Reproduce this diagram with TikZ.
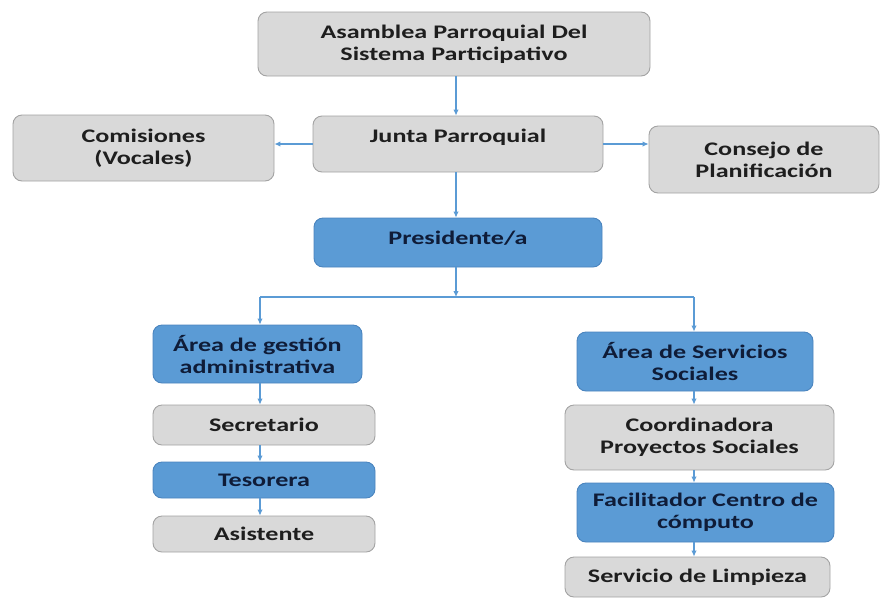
\documentclass[tikz,border=0pt]{standalone}
\usepackage{fontspec}
\newfontfamily\boxfont{Carlito}[FakeStretch=1.36]
\usetikzlibrary{arrows.meta}
\definecolor{gfill}{HTML}{D9D9D9}
\definecolor{gline}{HTML}{A3A3A3}
\definecolor{bfill}{HTML}{5B9BD5}
\definecolor{bline}{HTML}{4A84BE}
\definecolor{connc}{HTML}{5B9BD5}
\definecolor{gtext}{HTML}{1E1E1E}
\definecolor{btext}{HTML}{0F1C38}
\begin{document}
\begin{tikzpicture}[x=1pt,y=-1pt,
  box/.style={rounded corners=9pt, inner sep=0pt, align=center, line width=0.9pt,
    font=\boxfont\bfseries\fontsize{19.2}{22}\selectfont},
  gbox/.style={box, draw=gline, fill=gfill, text=gtext},
  bbox/.style={box, draw=bline, fill=bfill, text=btext},
  txt/.style={inner sep=0pt, align=center, font=\boxfont\bfseries\fontsize{19.2}{22}\selectfont},
  conn/.style={draw=connc, line width=1.1pt, -{Latex[length=6pt,width=5.5pt]}},
  cline/.style={draw=connc, line width=1.1pt}]
\useasboundingbox (0,0) rectangle (880,598);
\fill[white] (0,0) rectangle (880,598);

% top level
\node[gbox, minimum width=392pt, minimum height=64pt] (asam) at (454,44) {Asamblea Parroquial Del\\Sistema Participativo};
\node[gbox, minimum width=290pt, minimum height=56pt] (junta) at (458,144) {};
\node[txt, text=gtext] (juntat) at (458,137) {Junta Parroquial};
\node[gbox, minimum width=261pt, minimum height=66pt] (comis) at (143.5,148) {Comisiones\\(Vocales)};
\node[gbox, minimum width=230pt, minimum height=67pt] (consejo) at (764,159.5) {Consejo de\\Planificación};
\node[bbox, minimum width=288pt, minimum height=49pt] (pres) at (458,242.5) {};
\node[txt, text=btext] (prest) at (458,238) {Presidente/a};

% left column
\node[bbox, minimum width=209pt, minimum height=58pt] (areaG) at (257.5,354) {Área de gestión\\administrativa};
\node[gbox, minimum width=222pt, minimum height=40pt] (secr) at (264,425) {Secretario};
\node[bbox, minimum width=222pt, minimum height=36pt] (teso) at (264,480) {Tesorera};
\node[gbox, minimum width=222pt, minimum height=36pt] (asis) at (264,534) {Asistente};

% right column
\node[bbox, minimum width=236pt, minimum height=59pt] (areaS) at (695,361.5) {Área de Servicios\\Sociales};
\node[gbox, minimum width=269pt, minimum height=65pt] (coord) at (699.5,437.5) {Coordinadora\\Proyectos Sociales};
\node[bbox, minimum width=257pt, minimum height=59pt] (facil) at (705.5,512.5) {Facilitador Centro de\\cómputo};
\node[gbox, minimum width=265pt, minimum height=40pt] (limp) at (697.5,577) {Servicio de Limpieza};

% connector columns
\coordinate (cM) at (456,0);
\coordinate (cL) at (260,0);
\coordinate (cR) at (694,0);
\coordinate (hub) at (456,297);
\coordinate (hubL) at (260,297);
\coordinate (hubR) at (694,297);

\draw[conn] (asam.south -| cM) -- (junta.north -| cM);
\draw[conn] (junta.west) -- (junta.west -| comis.east);
\draw[conn] (junta.east) -- (junta.east -| consejo.west);
\draw[conn] (junta.south -| cM) -- (pres.north -| cM);
\draw[cline] (hubL) -- (hubR);
\draw[conn] (pres.south -| cM) -- (hub);
\draw[conn] (hubL) -- (areaG.north -| hubL);
\draw[conn] (hubR) -- (areaS.north -| hubR);

\draw[conn] (areaG.south -| cL) -- (secr.north -| cL);
\draw[conn] (secr.south -| cL) -- (teso.north -| cL);
\draw[conn] (teso.south -| cL) -- (asis.north -| cL);

\draw[conn] (areaS.south -| cR) -- (coord.north -| cR);
\draw[conn] (coord.south -| cR) -- (facil.north -| cR);
\draw[conn] (facil.south -| cR) -- (limp.north -| cR);
\end{tikzpicture}
\end{document}
